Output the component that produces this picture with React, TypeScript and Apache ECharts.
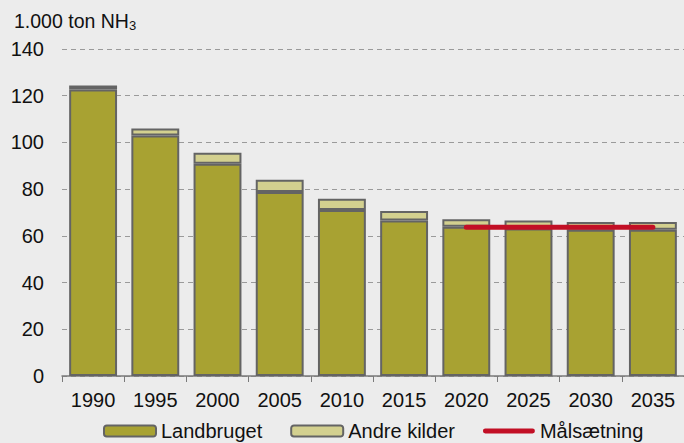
import React, { useEffect, useRef } from "react";
import * as echarts from "echarts";

const years = ["1990", "1995", "2000", "2005", "2010", "2015", "2020", "2025", "2030", "2035"];
const landbruget = [122.7, 103.0, 90.9, 78.8, 71.1, 66.6, 63.9, 63.2, 62.6, 62.6];
const andreKilder = [1.7, 3.0, 4.7, 5.2, 4.8, 4.0, 3.2, 3.4, 3.3, 3.3];
const maalsaetning = [null, null, null, null, null, null, 63.7, 63.7, 63.7, 63.7];
const yTicks = { min: 0, max: 140, interval: 20 };

const FONT = "'Liberation Sans', Arial, sans-serif";

export default function App() {
  const ref = useRef<HTMLDivElement>(null);
  useEffect(() => {
    if (!ref.current) return;
    const chart = echarts.init(ref.current, undefined, { renderer: "svg" });
    chart.setOption({
      animation: false,
      backgroundColor: "#ececec",
      textStyle: { fontFamily: FONT },
      title: {
        text: "{a|1.000 ton NH}{b|3}",
        left: 14,
        top: 9,
        padding: 0,
        textStyle: {
          fontWeight: "normal",
          rich: {
            a: { fontSize: 19.5, color: "#111", fontFamily: FONT, fontWeight: "normal" },
            b: { fontSize: 13, color: "#111", fontFamily: FONT, fontWeight: "normal", verticalAlign: "bottom", padding: [10, 0, 0, 0] },
          },
        },
      },
      grid: { left: 62, right: 0, top: 49, bottom: 67 },
      legend: {
        left: 103,
        top: 421,
        padding: 0,
        itemWidth: 52,
        itemHeight: 11,
        itemGap: 28,
        itemTextGap: 2,
        textStyle: { fontSize: 20, color: "#111", fontFamily: FONT },
        data: [
          { name: "Landbruget" },
          { name: "Andre kilder" },
          { name: "Målsætning", icon: "path://M2.5,0 L51.5,0 A2.5,2.5 0 0 1 51.5,5 L2.5,5 A2.5,2.5 0 0 1 2.5,0 Z" },
        ],
      },
      xAxis: {
        type: "category",
        data: years,
        axisLine: { lineStyle: { color: "#7a7a7a", width: 1.5 } },
        axisTick: { show: true, length: 6, lineStyle: { color: "#7a7a7a" } },
        axisLabel: { fontSize: 20, color: "#111", margin: 14, fontFamily: FONT },
      },
      yAxis: {
        type: "value",
        min: yTicks.min,
        max: yTicks.max,
        interval: yTicks.interval,
        axisLine: { show: false },
        axisTick: { show: false },
        axisLabel: { fontSize: 20, color: "#111", margin: 18, fontFamily: FONT },
        splitLine: { lineStyle: { color: "#9a9a9a", type: [5, 4], width: 1.2 } },
      },
      series: [
        {
          name: "Landbruget",
          type: "bar",
          stack: "total",
          data: landbruget,
          barCategoryGap: "23%",
          itemStyle: { color: "#a8a232", borderColor: "#646464", borderWidth: 2 },
        },
        {
          name: "Andre kilder",
          type: "bar",
          stack: "total",
          data: andreKilder,
          barCategoryGap: "23%",
          itemStyle: { color: "#d3d08f", borderColor: "#646464", borderWidth: 2 },
        },
        {
          name: "Målsætning",
          type: "line",
          data: maalsaetning,
          symbol: "none",
          color: "#c20f25",
          itemStyle: { color: "#c20f25" },
          lineStyle: { color: "#c20f25", width: 5, cap: "round" },
          z: 5,
        },
      ],
    });
    return () => chart.dispose();
  }, []);
  return <div ref={ref} style={{ width: 684, height: 443, position: "absolute", left: 0, top: 0 }} />;
}
